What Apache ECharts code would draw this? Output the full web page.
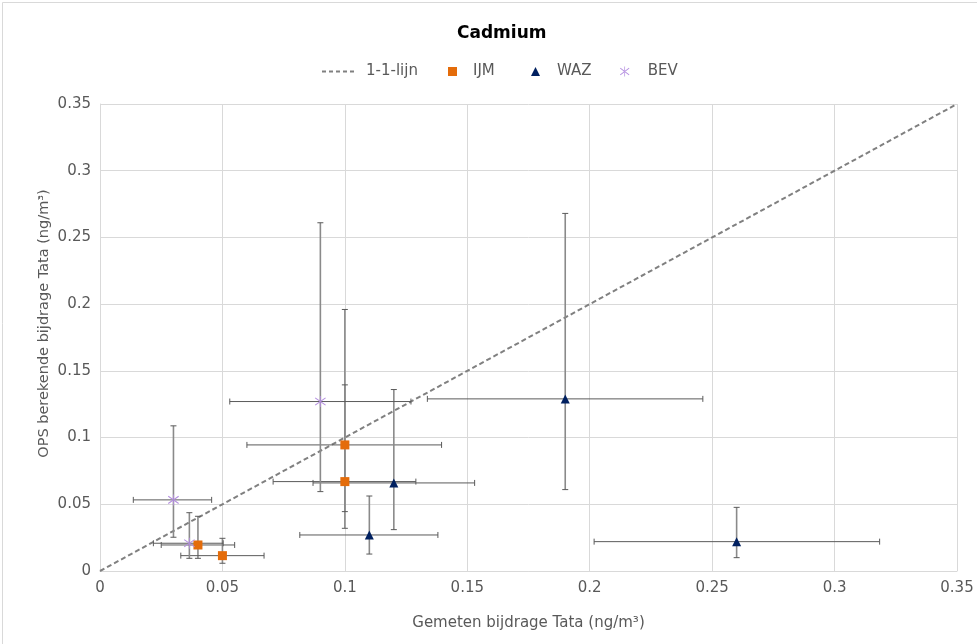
<!DOCTYPE html>
<html>
<head>
<meta charset="utf-8">
<script src="https://cdn.jsdelivr.net/npm/echarts@6/dist/echarts.min.js"></script>
<style>
html,body{margin:0;padding:0;background:#fff;}
#main{width:977px;height:644px;}
</style>
</head>
<body>
<div id="main"></div>
<script>
// ---- Data ----
var titleText = 'Cadmium';
var xAxisName = 'Gemeten bijdrage Tata (ng/m\u00b3)';
var yAxisName = 'OPS berekende bijdrage Tata (ng/m\u00b3)';
var seriesNames = ['1-1-lijn', 'IJM', 'WAZ', 'BEV'];
var axisTicks = [0, 0.05, 0.1, 0.15, 0.2, 0.25, 0.3, 0.35];
var oneToOne = [[0, 0], [0.35, 0.35]];

var ijmX     = [0.040, 0.050, 0.100, 0.100];
var ijmY     = [0.0195, 0.0115, 0.0945, 0.067];
var ijmXLow  = [0.025, 0.033, 0.060, 0.0707];
var ijmXHigh = [0.055, 0.067, 0.1395, 0.129];
var ijmYLow  = [0.0095, 0.0058, 0.032, 0.0445];
var ijmYHigh = [0.041, 0.0245, 0.196, 0.1395];

var wazX     = [0.110, 0.120, 0.190, 0.260];
var wazY     = [0.027, 0.066, 0.129, 0.022];
var wazXLow  = [0.0816, 0.087, 0.1337, 0.2018];
var wazXHigh = [0.138, 0.153, 0.2462, 0.3184];
var wazYLow  = [0.0127, 0.031, 0.061, 0.010];
var wazYHigh = [0.0562, 0.136, 0.268, 0.0477];

var bevX     = [0.030, 0.0365, 0.090];
var bevY     = [0.0533, 0.0208, 0.127];
var bevXLow  = [0.0136, 0.0218, 0.053];
var bevXHigh = [0.0456, 0.0503, 0.127];
var bevYLow  = [0.0253, 0.0095, 0.0595];
var bevYHigh = [0.1088, 0.0437, 0.261];

// ---- Build ----
function pts(xs, ys) { return xs.map(function (x, i) { return [x, ys[i]]; }); }
function errs(xs, ys, xl, xh, yl, yh) {
  return xs.map(function (x, i) { return [x, ys[i], xl[i], xh[i], yl[i], yh[i]]; });
}
var errData = [].concat(
  errs(ijmX, ijmY, ijmXLow, ijmXHigh, ijmYLow, ijmYHigh),
  errs(wazX, wazY, wazXLow, wazXHigh, wazYLow, wazYHigh),
  errs(bevX, bevY, bevXLow, bevXHigh, bevYLow, bevYHigh)
);

var FONT = 'DejaVu Sans';
var TXT = '#595959';
var starPath = 'path://M9.3 0 L10.7 0 L10.7 20 L9.3 20 Z M0.6 4.2 L1.6 2.6 L19.4 15.8 L18.4 17.4 Z M0.6 15.8 L1.6 17.4 L19.4 4.2 L18.4 2.6 Z';
var dashPath = 'path://M0 0h4v2h-4z M7 0h4v2h-4z M14 0h4v2h-4z M21 0h4v2h-4z M28 0h4v2h-4z';

function renderErr(params, api) {
  var x = api.value(0), y = api.value(1);
  var xl = api.value(2), xh = api.value(3), yl = api.value(4), yh = api.value(5);
  var pL = api.coord([xl, y]), pR = api.coord([xh, y]);
  var pB = api.coord([x, yl]), pT = api.coord([x, yh]);
  var c = 3;
  var hs = { stroke: '#5a5a5a', lineWidth: 1 };
  var vs = { stroke: '#8a8a8a', lineWidth: 1.6 };
  return {
    type: 'group',
    children: [
      { type: 'line', shape: { x1: pL[0], y1: pL[1], x2: pR[0], y2: pR[1] }, style: hs },
      { type: 'line', shape: { x1: pL[0], y1: pL[1] - c, x2: pL[0], y2: pL[1] + c }, style: hs },
      { type: 'line', shape: { x1: pR[0], y1: pR[1] - c, x2: pR[0], y2: pR[1] + c }, style: hs },
      { type: 'line', shape: { x1: pB[0], y1: pB[1], x2: pT[0], y2: pT[1] }, style: vs },
      { type: 'line', shape: { x1: pB[0] - c, y1: pB[1], x2: pB[0] + c, y2: pB[1] }, style: hs },
      { type: 'line', shape: { x1: pT[0] - c, y1: pT[1], x2: pT[0] + c, y2: pT[1] }, style: hs }
    ]
  };
}

var chart = echarts.init(document.getElementById('main'), null, { renderer: 'canvas' });
var labelFmt = function (v) { return String(+v.toFixed(2)); };
var gridLine = { show: true, lineStyle: { color: '#d9d9d9', width: 1 } };

function legendAt(name, icon, left, w, h, textGap) {
  return {
    data: [{ name: name, icon: icon }], left: left, top: 64, padding: 0,
    itemWidth: w, itemHeight: h,
    textStyle: { fontFamily: FONT, fontSize: 15, color: TXT, padding: [0, 0, 0, textGap] }
  };
}

chart.setOption({
  animation: false,
  backgroundColor: '#ffffff',
  title: {
    text: titleText, left: 452, top: 20,
    textStyle: { fontFamily: FONT, fontSize: 17, fontWeight: 'bold', color: '#000' }
  },
  legend: [
    legendAt(seriesNames[0], dashPath, 322, 32, 2, 7),
    legendAt(seriesNames[1], 'rect', 448, 9, 9, 11),
    legendAt(seriesNames[2], 'triangle', 531, 9, 9, 12),
    legendAt(seriesNames[3], starPath, 620, 10, 10, 13)
  ],
  grid: { left: 100, right: 20, top: 104, bottom: 73, containLabel: false },
  xAxis: {
    type: 'value', min: axisTicks[0], max: axisTicks[axisTicks.length - 1], interval: 0.05,
    axisLine: { show: true, lineStyle: { color: '#d9d9d9', width: 1 } },
    axisTick: { show: false },
    splitLine: gridLine,
    axisLabel: { color: TXT, fontFamily: FONT, fontSize: 15, margin: 10, formatter: labelFmt },
    name: xAxisName, nameLocation: 'middle', nameGap: 45, nameMoveOverlap: false,
    nameTextStyle: { color: TXT, fontFamily: FONT, fontSize: 15 }
  },
  yAxis: {
    type: 'value', min: axisTicks[0], max: axisTicks[axisTicks.length - 1], interval: 0.05,
    axisLine: { show: true, lineStyle: { color: '#d9d9d9', width: 1 } },
    axisTick: { show: false },
    splitLine: gridLine,
    axisLabel: { color: TXT, fontFamily: FONT, fontSize: 15, margin: 9, formatter: labelFmt },
    name: yAxisName, nameLocation: 'middle', nameGap: 48, nameMoveOverlap: false,
    nameTextStyle: { color: TXT, fontFamily: FONT, fontSize: 14.5, padding: [0, 0, 0, 28] }
  },
  graphic: [{
    type: 'rect', left: 0, top: 0, z: -10,
    shape: { x: 0.5, y: 0.5, width: 975, height: 642 },
    style: { fill: 'none', stroke: '#d9d9d9', lineWidth: 1 }
  }],
  series: [
    {
      name: seriesNames[0], type: 'line', data: oneToOne, symbol: 'none', z: 2,
      lineStyle: { color: '#808080', width: 2, type: [5, 3] },
      itemStyle: { color: '#808080' }
    },
    {
      name: 'err', type: 'custom', renderItem: renderErr, data: errData, z: 3,
      encode: { x: [0, 2, 3], y: [1, 4, 5] }, silent: true
    },
    {
      name: seriesNames[1], type: 'scatter', data: pts(ijmX, ijmY), symbol: 'rect', symbolSize: 9, z: 5,
      itemStyle: { color: '#E46C0A', opacity: 1 }
    },
    {
      name: seriesNames[2], type: 'scatter', data: pts(wazX, wazY), symbol: 'triangle', symbolSize: 9, z: 5,
      itemStyle: { color: '#002060', opacity: 1 }
    },
    {
      name: seriesNames[3], type: 'scatter', data: pts(bevX, bevY), symbol: starPath, symbolSize: 11, z: 5,
      itemStyle: { color: '#B48EE0', opacity: 1 }
    }
  ]
});
</script>
</body>
</html>
